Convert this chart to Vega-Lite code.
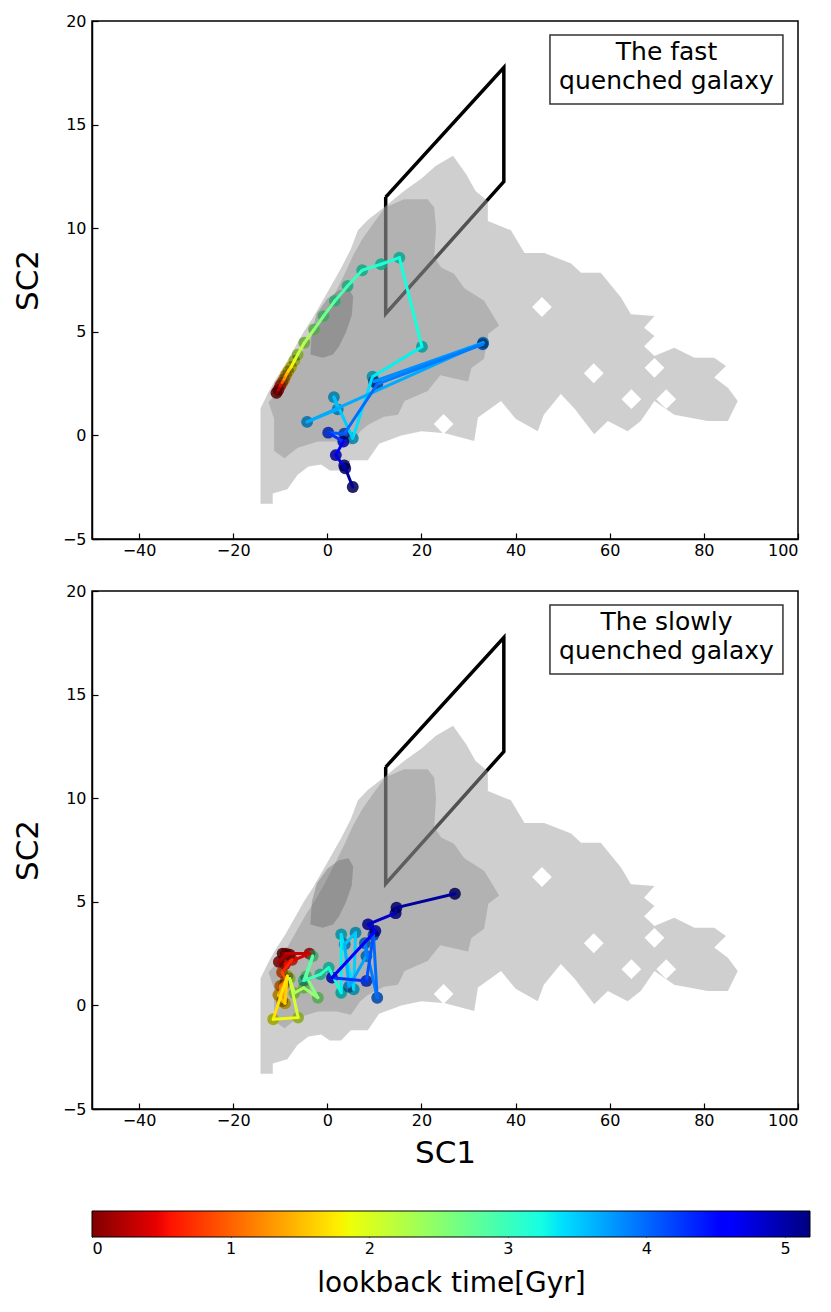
{
  "$schema": "https://vega.github.io/schema/vega-lite/v6.json",
  "background": "white",
  "padding": {"left": 11, "top": 12, "right": 5, "bottom": 5},
  "bounds": "flush",
  "spacing": 52,
  "config": {
    "font": "DejaVu Sans",
    "view": {"stroke": "black", "strokeWidth": 1.5},
    "axis": {"grid": false, "domainColor": "black", "domainWidth": 1.5, "tickColor": "black", "tickWidth": 1.2, "tickSize": -6, "labelFont": "DejaVu Sans", "labelFontSize": 16, "labelColor": "black", "labelPadding": 9, "titleFont": "DejaVu Sans", "titleFontSize": 31, "titleFontWeight": "normal", "titleColor": "black"},
    "axisY": {"labelPadding": 12}
  },
  "datasets": {
    "para": [
      {"i": 1, "x": 12.4, "y": 11.5}, {"i": 2, "x": 37.5, "y": 17.75}, {"i": 3, "x": 37.5, "y": 12.25}, {"i": 4, "x": 12.4, "y": 5.87}, {"i": 5, "x": 12.4, "y": 11.5}
    ],
    "bg": [
      {"lvl": "a", "i": 1, "x": -14.2, "y": -3.3}, {"lvl": "a", "i": 2, "x": -14.2, "y": 1.3}, {"lvl": "a", "i": 3, "x": -12.5, "y": 2.1}, {"lvl": "a", "i": 4, "x": -11, "y": 2.7},
      {"lvl": "a", "i": 5, "x": -9, "y": 3.4}, {"lvl": "a", "i": 6, "x": -7, "y": 4.2}, {"lvl": "a", "i": 7, "x": -5, "y": 5.0}, {"lvl": "a", "i": 8, "x": -3, "y": 5.7},
      {"lvl": "a", "i": 9, "x": -1, "y": 6.5}, {"lvl": "a", "i": 10, "x": 1, "y": 7.3}, {"lvl": "a", "i": 11, "x": 3, "y": 8.1}, {"lvl": "a", "i": 12, "x": 5, "y": 9.0},
      {"lvl": "a", "i": 13, "x": 6.5, "y": 9.9}, {"lvl": "a", "i": 14, "x": 8.6, "y": 10.4}, {"lvl": "a", "i": 15, "x": 12, "y": 11.0}, {"lvl": "a", "i": 16, "x": 16.3, "y": 11.8},
      {"lvl": "a", "i": 17, "x": 20, "y": 12.4}, {"lvl": "a", "i": 18, "x": 23, "y": 13.0}, {"lvl": "a", "i": 19, "x": 26.7, "y": 13.5}, {"lvl": "a", "i": 20, "x": 29.5, "y": 12.6},
      {"lvl": "a", "i": 21, "x": 31.5, "y": 11.8}, {"lvl": "a", "i": 22, "x": 34.1, "y": 11.3}, {"lvl": "a", "i": 23, "x": 34.1, "y": 10.35}, {"lvl": "a", "i": 24, "x": 39, "y": 9.9},
      {"lvl": "a", "i": 25, "x": 41.9, "y": 8.8}, {"lvl": "a", "i": 26, "x": 46.1, "y": 8.8}, {"lvl": "a", "i": 27, "x": 51.8, "y": 8.3}, {"lvl": "a", "i": 28, "x": 53.9, "y": 7.85},
      {"lvl": "a", "i": 29, "x": 58.1, "y": 7.85}, {"lvl": "a", "i": 30, "x": 62.4, "y": 6.65}, {"lvl": "a", "i": 31, "x": 64.5, "y": 5.85}, {"lvl": "a", "i": 32, "x": 69.5, "y": 5.76},
      {"lvl": "a", "i": 33, "x": 67.3, "y": 5.2}, {"lvl": "a", "i": 34, "x": 69.5, "y": 4.8}, {"lvl": "a", "i": 35, "x": 67.3, "y": 4.3}, {"lvl": "a", "i": 36, "x": 69.5, "y": 3.83},
      {"lvl": "a", "i": 37, "x": 73.7, "y": 4.23}, {"lvl": "a", "i": 38, "x": 78, "y": 3.75}, {"lvl": "a", "i": 39, "x": 82.2, "y": 3.75}, {"lvl": "a", "i": 40, "x": 84.7, "y": 3.35},
      {"lvl": "a", "i": 41, "x": 82.2, "y": 2.8}, {"lvl": "a", "i": 42, "x": 85.1, "y": 2.3}, {"lvl": "a", "i": 43, "x": 87.2, "y": 1.66}, {"lvl": "a", "i": 44, "x": 85.1, "y": 0.7},
      {"lvl": "a", "i": 45, "x": 80.8, "y": 0.7}, {"lvl": "a", "i": 46, "x": 73.7, "y": 1.0}, {"lvl": "a", "i": 47, "x": 69.5, "y": 1.66}, {"lvl": "a", "i": 48, "x": 66.6, "y": 0.7},
      {"lvl": "a", "i": 49, "x": 63.8, "y": 0.2}, {"lvl": "a", "i": 50, "x": 59.6, "y": 0.7}, {"lvl": "a", "i": 51, "x": 56.7, "y": 0.05}, {"lvl": "a", "i": 52, "x": 52.5, "y": 1.3},
      {"lvl": "a", "i": 53, "x": 49.6, "y": 2.0}, {"lvl": "a", "i": 54, "x": 46, "y": 1.0}, {"lvl": "a", "i": 55, "x": 44.7, "y": 0.2}, {"lvl": "a", "i": 56, "x": 40, "y": 0.8},
      {"lvl": "a", "i": 57, "x": 36.9, "y": 1.66}, {"lvl": "a", "i": 58, "x": 32, "y": 0.86}, {"lvl": "a", "i": 59, "x": 31.2, "y": -0.27}, {"lvl": "a", "i": 60, "x": 25, "y": 0.1},
      {"lvl": "a", "i": 61, "x": 20, "y": 0.2}, {"lvl": "a", "i": 62, "x": 15.7, "y": 0.0}, {"lvl": "a", "i": 63, "x": 11, "y": -0.4}, {"lvl": "a", "i": 64, "x": 8.6, "y": -1.2},
      {"lvl": "a", "i": 65, "x": 5, "y": -1.2}, {"lvl": "a", "i": 66, "x": 2.9, "y": -1.7}, {"lvl": "a", "i": 67, "x": 0.5, "y": -1.7}, {"lvl": "a", "i": 68, "x": -1.3, "y": -1.4},
      {"lvl": "a", "i": 69, "x": -4, "y": -1.5}, {"lvl": "a", "i": 70, "x": -6.3, "y": -1.9}, {"lvl": "a", "i": 71, "x": -8.5, "y": -2.6}, {"lvl": "a", "i": 72, "x": -11.6, "y": -2.8},
      {"lvl": "a", "i": 73, "x": -11.6, "y": -3.3},
      {"lvl": "b", "i": 1, "x": -12.5, "y": 1.6}, {"lvl": "b", "i": 2, "x": -11.3, "y": 0.8}, {"lvl": "b", "i": 3, "x": -11.3, "y": -0.75}, {"lvl": "b", "i": 4, "x": -9.1, "y": -1.1},
      {"lvl": "b", "i": 5, "x": -6.3, "y": -0.6}, {"lvl": "b", "i": 6, "x": -2.0, "y": -0.3}, {"lvl": "b", "i": 7, "x": 2, "y": -0.3}, {"lvl": "b", "i": 8, "x": 5.0, "y": -0.45},
      {"lvl": "b", "i": 9, "x": 7, "y": 0.2}, {"lvl": "b", "i": 10, "x": 8.6, "y": 0.5}, {"lvl": "b", "i": 11, "x": 12, "y": 0.9}, {"lvl": "b", "i": 12, "x": 15, "y": 1.0},
      {"lvl": "b", "i": 13, "x": 16.4, "y": 1.66}, {"lvl": "b", "i": 14, "x": 21.3, "y": 2.14}, {"lvl": "b", "i": 15, "x": 24, "y": 2.9}, {"lvl": "b", "i": 16, "x": 29.9, "y": 2.6},
      {"lvl": "b", "i": 17, "x": 30.6, "y": 3.25}, {"lvl": "b", "i": 18, "x": 33.3, "y": 3.7}, {"lvl": "b", "i": 19, "x": 34.2, "y": 4.9}, {"lvl": "b", "i": 20, "x": 36.5, "y": 5.3},
      {"lvl": "b", "i": 21, "x": 33.3, "y": 6.5}, {"lvl": "b", "i": 22, "x": 29.1, "y": 7.1}, {"lvl": "b", "i": 23, "x": 26.9, "y": 7.8}, {"lvl": "b", "i": 24, "x": 24.2, "y": 8.1},
      {"lvl": "b", "i": 25, "x": 22.7, "y": 8.6}, {"lvl": "b", "i": 26, "x": 23.1, "y": 10.0}, {"lvl": "b", "i": 27, "x": 22.7, "y": 11.0}, {"lvl": "b", "i": 28, "x": 21.3, "y": 11.4},
      {"lvl": "b", "i": 29, "x": 16.3, "y": 11.4}, {"lvl": "b", "i": 30, "x": 12.3, "y": 11.0}, {"lvl": "b", "i": 31, "x": 10, "y": 10.3}, {"lvl": "b", "i": 32, "x": 7.5, "y": 9.5},
      {"lvl": "b", "i": 33, "x": 5.5, "y": 8.7}, {"lvl": "b", "i": 34, "x": 3.5, "y": 7.7}, {"lvl": "b", "i": 35, "x": 1.5, "y": 6.8}, {"lvl": "b", "i": 36, "x": -0.5, "y": 5.9},
      {"lvl": "b", "i": 37, "x": -2.5, "y": 5.1}, {"lvl": "b", "i": 38, "x": -4.5, "y": 4.4}, {"lvl": "b", "i": 39, "x": -6.5, "y": 3.6}, {"lvl": "b", "i": 40, "x": -8.5, "y": 2.8},
      {"lvl": "b", "i": 41, "x": -10.5, "y": 2.1},
      {"lvl": "c", "i": 1, "x": -3.6, "y": 3.9}, {"lvl": "c", "i": 2, "x": -3.3, "y": 5.0}, {"lvl": "c", "i": 3, "x": -2.2, "y": 5.9}, {"lvl": "c", "i": 4, "x": 0, "y": 6.6},
      {"lvl": "c", "i": 5, "x": 2.5, "y": 7.0}, {"lvl": "c", "i": 6, "x": 4.5, "y": 7.1}, {"lvl": "c", "i": 7, "x": 5.5, "y": 6.7}, {"lvl": "c", "i": 8, "x": 5.2, "y": 5.8},
      {"lvl": "c", "i": 9, "x": 4.0, "y": 5.0}, {"lvl": "c", "i": 10, "x": 2.5, "y": 4.3}, {"lvl": "c", "i": 11, "x": 1.2, "y": 3.9}, {"lvl": "c", "i": 12, "x": -1, "y": 3.75}
    ],
    "holes": [
      {"poly": 1, "i": 1, "x": 67.4, "y": 3.26}, {"poly": 1, "i": 2, "x": 69.5, "y": 3.74}, {"poly": 1, "i": 3, "x": 71.6, "y": 3.26}, {"poly": 1, "i": 4, "x": 69.5, "y": 2.78},
      {"poly": 2, "i": 1, "x": 62.5, "y": 1.75}, {"poly": 2, "i": 2, "x": 64.6, "y": 2.23}, {"poly": 2, "i": 3, "x": 66.7, "y": 1.75}, {"poly": 2, "i": 4, "x": 64.6, "y": 1.27},
      {"poly": 3, "i": 1, "x": 69.9, "y": 1.75}, {"poly": 3, "i": 2, "x": 72.0, "y": 2.23}, {"poly": 3, "i": 3, "x": 74.1, "y": 1.75}, {"poly": 3, "i": 4, "x": 72.0, "y": 1.27},
      {"poly": 4, "i": 1, "x": 22.6, "y": 0.55}, {"poly": 4, "i": 2, "x": 24.7, "y": 1.03}, {"poly": 4, "i": 3, "x": 26.8, "y": 0.55}, {"poly": 4, "i": 4, "x": 24.7, "y": 0.07},
      {"poly": 5, "i": 1, "x": 43.5, "y": 6.2}, {"poly": 5, "i": 2, "x": 45.6, "y": 6.68}, {"poly": 5, "i": 3, "x": 47.7, "y": 6.2}, {"poly": 5, "i": 4, "x": 45.6, "y": 5.72},
      {"poly": 6, "i": 1, "x": 54.5, "y": 3.0}, {"poly": 6, "i": 2, "x": 56.6, "y": 3.48}, {"poly": 6, "i": 3, "x": 58.7, "y": 3.0}, {"poly": 6, "i": 4, "x": 56.6, "y": 2.52}
    ],
    "traj": [
      {"panel": "fast", "t": 0.00, "x": -10.8, "y": 2.05}, {"panel": "fast", "t": 0.25, "x": -10.4, "y": 2.2}, {"panel": "fast", "t": 0.50, "x": -10.0, "y": 2.4},
      {"panel": "fast", "t": 0.80, "x": -9.6, "y": 2.55}, {"panel": "fast", "t": 1.10, "x": -9.2, "y": 2.7}, {"panel": "fast", "t": 1.35, "x": -8.8, "y": 2.9},
      {"panel": "fast", "t": 1.60, "x": -8.3, "y": 3.1}, {"panel": "fast", "t": 1.80, "x": -7.7, "y": 3.3}, {"panel": "fast", "t": 1.95, "x": -7.0, "y": 3.6},
      {"panel": "fast", "t": 2.10, "x": -6.3, "y": 3.9}, {"panel": "fast", "t": 2.25, "x": -4.9, "y": 4.47}, {"panel": "fast", "t": 2.45, "x": -2.8, "y": 5.12},
      {"panel": "fast", "t": 2.62, "x": -0.8, "y": 5.76}, {"panel": "fast", "t": 2.80, "x": 1.6, "y": 6.49}, {"panel": "fast", "t": 2.92, "x": 4.3, "y": 7.21},
      {"panel": "fast", "t": 3.02, "x": 7.4, "y": 7.97}, {"panel": "fast", "t": 3.10, "x": 11.4, "y": 8.26}, {"panel": "fast", "t": 3.18, "x": 15.3, "y": 8.58},
      {"panel": "fast", "t": 3.30, "x": 20.1, "y": 4.28}, {"panel": "fast", "t": 3.40, "x": 9.6, "y": 2.83}, {"panel": "fast", "t": 3.55, "x": 5.4, "y": -0.14},
      {"panel": "fast", "t": 3.65, "x": 1.4, "y": 1.85}, {"panel": "fast", "t": 3.72, "x": 2.2, "y": 1.26}, {"panel": "fast", "t": 3.80, "x": -4.3, "y": 0.65},
      {"panel": "fast", "t": 3.90, "x": 33.1, "y": 4.47}, {"panel": "fast", "t": 4.00, "x": 9.9, "y": 2.6}, {"panel": "fast", "t": 4.10, "x": 33.0, "y": 4.4},
      {"panel": "fast", "t": 4.20, "x": 10.6, "y": 2.47}, {"panel": "fast", "t": 4.30, "x": 3.6, "y": 0.08}, {"panel": "fast", "t": 4.45, "x": 0.2, "y": 0.13},
      {"panel": "fast", "t": 4.60, "x": 3.4, "y": -0.3}, {"panel": "fast", "t": 4.75, "x": 1.8, "y": -0.95}, {"panel": "fast", "t": 4.90, "x": 3.8, "y": -1.59},
      {"panel": "fast", "t": 5.05, "x": 3.6, "y": -1.45}, {"panel": "fast", "t": 5.18, "x": 5.4, "y": -2.49},
      {"panel": "slow", "t": 0.00, "x": -9.5, "y": 2.5}, {"panel": "slow", "t": 0.10, "x": -8.0, "y": 2.45}, {"panel": "slow", "t": 0.20, "x": -10.3, "y": 2.1},
      {"panel": "slow", "t": 0.30, "x": -8.8, "y": 2.5}, {"panel": "slow", "t": 0.40, "x": -3.8, "y": 2.5}, {"panel": "slow", "t": 0.50, "x": -9.0, "y": 2.0},
      {"panel": "slow", "t": 0.60, "x": -7.5, "y": 2.2}, {"panel": "slow", "t": 0.72, "x": -9.6, "y": 1.6}, {"panel": "slow", "t": 0.85, "x": -8.8, "y": 1.2},
      {"panel": "slow", "t": 0.98, "x": -10.0, "y": 0.94}, {"panel": "slow", "t": 1.10, "x": -9.6, "y": 0.21}, {"panel": "slow", "t": 1.25, "x": -9.2, "y": 1.0},
      {"panel": "slow", "t": 1.40, "x": -10.4, "y": 0.5}, {"panel": "slow", "t": 1.55, "x": -9.0, "y": 0.1}, {"panel": "slow", "t": 1.70, "x": -8.5, "y": 1.42},
      {"panel": "slow", "t": 1.85, "x": -11.5, "y": -0.67}, {"panel": "slow", "t": 2.00, "x": -6.2, "y": -0.59}, {"panel": "slow", "t": 2.10, "x": -8.0, "y": 1.3},
      {"panel": "slow", "t": 2.22, "x": -7.0, "y": 0.6}, {"panel": "slow", "t": 2.34, "x": -5.0, "y": 0.85}, {"panel": "slow", "t": 2.46, "x": -2.0, "y": 0.37},
      {"panel": "slow", "t": 2.58, "x": -4.5, "y": 1.4}, {"panel": "slow", "t": 2.72, "x": -3.1, "y": 2.38}, {"panel": "slow", "t": 2.86, "x": -5.0, "y": 1.2},
      {"panel": "slow", "t": 3.00, "x": -1.5, "y": 1.5}, {"panel": "slow", "t": 3.15, "x": 0.3, "y": 1.82}, {"panel": "slow", "t": 3.30, "x": 2.95, "y": 0.61},
      {"panel": "slow", "t": 3.40, "x": 2.95, "y": 3.43}, {"panel": "slow", "t": 3.50, "x": 5.6, "y": 0.78}, {"panel": "slow", "t": 3.60, "x": 6.0, "y": 3.51},
      {"panel": "slow", "t": 3.72, "x": 3.7, "y": 2.95}, {"panel": "slow", "t": 3.85, "x": 4.6, "y": 0.9}, {"panel": "slow", "t": 3.98, "x": 8.3, "y": 2.38},
      {"panel": "slow", "t": 4.10, "x": 8.0, "y": 3.0}, {"panel": "slow", "t": 4.20, "x": 10.6, "y": 0.37}, {"panel": "slow", "t": 4.32, "x": 9.8, "y": 3.4},
      {"panel": "slow", "t": 4.45, "x": 8.3, "y": 1.18}, {"panel": "slow", "t": 4.60, "x": 1.0, "y": 1.34}, {"panel": "slow", "t": 4.75, "x": 10.2, "y": 3.59},
      {"panel": "slow", "t": 4.85, "x": 8.65, "y": 3.91}, {"panel": "slow", "t": 4.95, "x": 14.5, "y": 4.45}, {"panel": "slow", "t": 5.05, "x": 14.7, "y": 4.72},
      {"panel": "slow", "t": 5.18, "x": 27.1, "y": 5.39}
    ],
    "tbox": [
      {"panel": "fast", "x": 47.3, "x2": 96.8, "y": 19.32, "y2": 16.0},
      {"panel": "slow", "x": 47.3, "x2": 96.8, "y": 19.32, "y2": 16.0}
    ],
    "tlabel": [
      {"panel": "fast", "x": 72.06, "y": 18.5, "text": "The fast\nquenched galaxy"},
      {"panel": "slow", "x": 72.06, "y": 18.5, "text": "The slowly\nquenched galaxy"}
    ],
    "cbar": [
      {"t0": 0, "t1": 5.18, "b0": 0, "b1": 1}
    ]
  },
  "vconcat": [
    {
      "width": 706, "height": 518,
      "encoding": {
        "x": {"field": "x", "type": "quantitative", "scale": {"domain": [-50, 100], "nice": false, "zero": false}, "axis": {"values": [-40, -20, 0, 20, 40, 60, 80, 100], "title": null}},
        "y": {"field": "y", "type": "quantitative", "scale": {"domain": [-5, 20], "nice": false, "zero": false}, "axis": {"values": [-5, 0, 5, 10, 15, 20], "title": "SC2", "titlePadding": 18}}
      },
      "layer": [
        {"data": {"name": "para"}, "mark": {"type": "line", "stroke": "black", "strokeWidth": 3.5, "strokeJoin": "miter"}, "encoding": {"order": {"field": "i", "type": "quantitative"}}},
        {"data": {"name": "bg"}, "transform": [{"filter": "datum.lvl == 'a'"}], "mark": {"type": "line", "fill": "#a0a0a0", "fillOpacity": 0.505, "strokeWidth": 0}, "encoding": {"order": {"field": "i", "type": "quantitative"}}},
        {"data": {"name": "bg"}, "transform": [{"filter": "datum.lvl == 'b'"}], "mark": {"type": "line", "fill": "#787878", "fillOpacity": 0.333, "strokeWidth": 0}, "encoding": {"order": {"field": "i", "type": "quantitative"}}},
        {"data": {"name": "bg"}, "transform": [{"filter": "datum.lvl == 'c'"}], "mark": {"type": "line", "fill": "#5a5a5a", "fillOpacity": 0.352, "strokeWidth": 0}, "encoding": {"order": {"field": "i", "type": "quantitative"}}},
        {"data": {"name": "holes"}, "mark": {"type": "line", "fill": "white", "strokeWidth": 0}, "encoding": {"order": {"field": "i", "type": "quantitative"}, "detail": {"field": "poly", "type": "nominal"}}},
        {"data": {"name": "traj"}, "transform": [{"filter": "datum.panel == 'fast'"}], "mark": {"type": "circle", "size": 140, "opacity": 0.8},
         "encoding": {"color": {"field": "t", "type": "quantitative", "legend": null,
           "scale": {"domain": [0, 0.466, 0.570, 1.761, 1.813, 1.865, 3.2375, 3.367, 3.419, 4.5325, 4.610, 5.18], "range": ["#800000", "#e80000", "#ff1300", "#ffec00", "#f7f600", "#eeff08", "#15ffe2", "#00e6f7", "#00dbff", "#0000ff", "#0000ff", "#000080"]}}}},
        {"data": {"name": "traj"}, "transform": [{"filter": "datum.panel == 'fast'"}], "mark": {"type": "circle", "size": 140, "color": "black", "opacity": 0.3}},
        {"data": {"name": "traj"}, "transform": [{"filter": "datum.panel == 'fast'"}, {"window": [{"op": "lead", "field": "x", "as": "x2"}, {"op": "lead", "field": "y", "as": "y2"}], "sort": [{"field": "t", "order": "ascending"}]}, {"filter": "datum.x2 != null"}],
         "mark": {"type": "rule", "strokeWidth": 3, "strokeCap": "round"},
         "encoding": {"x2": {"field": "x2"}, "y2": {"field": "y2"}, "stroke": {"field": "t", "type": "quantitative", "legend": null,
           "scale": {"domain": [0, 0.466, 0.570, 1.761, 1.813, 1.865, 3.2375, 3.367, 3.419, 4.5325, 4.610, 5.18], "range": ["#800000", "#e80000", "#ff1300", "#ffec00", "#f7f600", "#eeff08", "#15ffe2", "#00e6f7", "#00dbff", "#0000ff", "#0000ff", "#000080"]}}}},
        {"data": {"name": "tbox"}, "transform": [{"filter": "datum.panel == 'fast'"}], "mark": {"type": "rect", "fill": "white", "stroke": "#333333", "strokeWidth": 1.5}, "encoding": {"x2": {"field": "x2"}, "y2": {"field": "y2"}}},
        {"data": {"name": "tlabel"}, "transform": [{"filter": "datum.panel == 'fast'"}], "mark": {"type": "text", "fontSize": 25, "lineBreak": "\n", "lineHeight": 29, "align": "center", "baseline": "middle", "color": "black"}, "encoding": {"text": {"field": "text"}}}
      ]
    },
    {
      "width": 706, "height": 518,
      "encoding": {
        "x": {"field": "x", "type": "quantitative", "scale": {"domain": [-50, 100], "nice": false, "zero": false}, "axis": {"values": [-40, -20, 0, 20, 40, 60, 80, 100], "title": "SC1", "titlePadding": 10}},
        "y": {"field": "y", "type": "quantitative", "scale": {"domain": [-5, 20], "nice": false, "zero": false}, "axis": {"values": [-5, 0, 5, 10, 15, 20], "title": "SC2", "titlePadding": 18}}
      },
      "layer": [
        {"data": {"name": "para"}, "mark": {"type": "line", "stroke": "black", "strokeWidth": 3.5, "strokeJoin": "miter"}, "encoding": {"order": {"field": "i", "type": "quantitative"}}},
        {"data": {"name": "bg"}, "transform": [{"filter": "datum.lvl == 'a'"}], "mark": {"type": "line", "fill": "#a0a0a0", "fillOpacity": 0.505, "strokeWidth": 0}, "encoding": {"order": {"field": "i", "type": "quantitative"}}},
        {"data": {"name": "bg"}, "transform": [{"filter": "datum.lvl == 'b'"}], "mark": {"type": "line", "fill": "#787878", "fillOpacity": 0.333, "strokeWidth": 0}, "encoding": {"order": {"field": "i", "type": "quantitative"}}},
        {"data": {"name": "bg"}, "transform": [{"filter": "datum.lvl == 'c'"}], "mark": {"type": "line", "fill": "#5a5a5a", "fillOpacity": 0.352, "strokeWidth": 0}, "encoding": {"order": {"field": "i", "type": "quantitative"}}},
        {"data": {"name": "holes"}, "mark": {"type": "line", "fill": "white", "strokeWidth": 0}, "encoding": {"order": {"field": "i", "type": "quantitative"}, "detail": {"field": "poly", "type": "nominal"}}},
        {"data": {"name": "traj"}, "transform": [{"filter": "datum.panel == 'slow'"}], "mark": {"type": "circle", "size": 140, "opacity": 0.8},
         "encoding": {"color": {"field": "t", "type": "quantitative", "legend": null,
           "scale": {"domain": [0, 0.466, 0.570, 1.761, 1.813, 1.865, 3.2375, 3.367, 3.419, 4.5325, 4.610, 5.18], "range": ["#800000", "#e80000", "#ff1300", "#ffec00", "#f7f600", "#eeff08", "#15ffe2", "#00e6f7", "#00dbff", "#0000ff", "#0000ff", "#000080"]}}}},
        {"data": {"name": "traj"}, "transform": [{"filter": "datum.panel == 'slow'"}], "mark": {"type": "circle", "size": 140, "color": "black", "opacity": 0.3}},
        {"data": {"name": "traj"}, "transform": [{"filter": "datum.panel == 'slow'"}, {"window": [{"op": "lead", "field": "x", "as": "x2"}, {"op": "lead", "field": "y", "as": "y2"}], "sort": [{"field": "t", "order": "ascending"}]}, {"filter": "datum.x2 != null"}],
         "mark": {"type": "rule", "strokeWidth": 3, "strokeCap": "round"},
         "encoding": {"x2": {"field": "x2"}, "y2": {"field": "y2"}, "stroke": {"field": "t", "type": "quantitative", "legend": null,
           "scale": {"domain": [0, 0.466, 0.570, 1.761, 1.813, 1.865, 3.2375, 3.367, 3.419, 4.5325, 4.610, 5.18], "range": ["#800000", "#e80000", "#ff1300", "#ffec00", "#f7f600", "#eeff08", "#15ffe2", "#00e6f7", "#00dbff", "#0000ff", "#0000ff", "#000080"]}}}},
        {"data": {"name": "tbox"}, "transform": [{"filter": "datum.panel == 'slow'"}], "mark": {"type": "rect", "fill": "white", "stroke": "#333333", "strokeWidth": 1.5}, "encoding": {"x2": {"field": "x2"}, "y2": {"field": "y2"}}},
        {"data": {"name": "tlabel"}, "transform": [{"filter": "datum.panel == 'slow'"}], "mark": {"type": "text", "fontSize": 25, "lineBreak": "\n", "lineHeight": 29, "align": "center", "baseline": "middle", "color": "black"}, "encoding": {"text": {"field": "text"}}}
      ]
    },
    {
      "width": 718, "height": 76,
      "view": {"stroke": null},
      "data": {"name": "cbar"},
      "mark": {"type": "rect", "stroke": "black", "strokeWidth": 1, "fill": {"gradient": "linear", "x1": 0, "x2": 1, "y1": 0, "y2": 0, "stops": [
        {"offset": 0, "color": "#800000"}, {"offset": 0.09, "color": "#e80000"}, {"offset": 0.11, "color": "#ff1300"}, {"offset": 0.34, "color": "#ffec00"},
        {"offset": 0.35, "color": "#f7f600"}, {"offset": 0.36, "color": "#eeff08"}, {"offset": 0.625, "color": "#15ffe2"}, {"offset": 0.65, "color": "#00e6f7"},
        {"offset": 0.66, "color": "#00dbff"}, {"offset": 0.875, "color": "#0000ff"}, {"offset": 0.89, "color": "#0000ff"}, {"offset": 1, "color": "#000080"}]}},
      "encoding": {
        "x": {"field": "t0", "type": "quantitative", "scale": {"domain": [0, 5.18], "nice": false, "zero": false}, "axis": {"values": [0, 1, 2, 3, 4, 5], "title": "lookback time[Gyr]", "titleFontSize": 28, "titlePadding": 13, "labelFontSize": 16, "domain": false, "tickWidth": 1}},
        "x2": {"field": "t1"},
        "y": {"field": "b0", "type": "quantitative", "scale": {"domain": [0, 2.923], "nice": false, "zero": false}, "axis": null},
        "y2": {"field": "b1"}
      }
    }
  ]
}
